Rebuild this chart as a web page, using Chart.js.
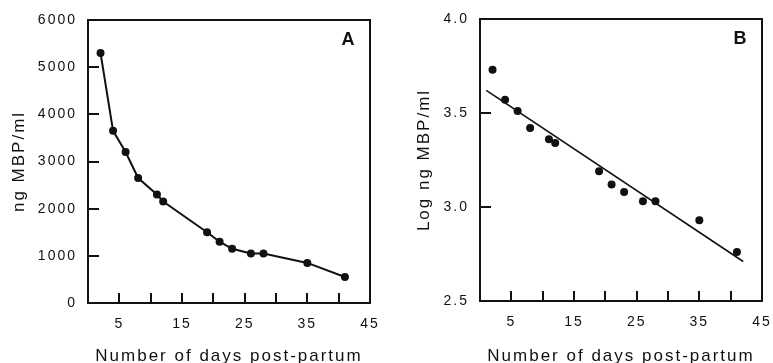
<!DOCTYPE html>
<html>
<head>
<meta charset="utf-8">
<title>MBP post-partum</title>
<script src="https://cdn.jsdelivr.net/npm/chart.js@4.4.1/dist/chart.umd.min.js"></script>
<style>
  html, body { margin: 0; padding: 0; background: #fff; }
  #wrap { position: relative; width: 773px; height: 363px; }
  .panel { position: absolute; top: 0; height: 363px; }
  #panelA { left: 0; width: 386px; }
  #panelB { left: 386px; width: 387px; }
</style>
</head>
<body>
<div id="wrap">
  <div class="panel" id="panelA"><canvas id="chartA"></canvas></div>
  <div class="panel" id="panelB"><canvas id="chartB"></canvas></div>
</div>
<script>
// days post-partum (shared by both panels)
const days = [2, 4, 6, 8, 11, 12, 19, 21, 23, 26, 28, 35, 41];
// panel A: ng MBP/ml
const mbp = [5300, 3650, 3200, 2650, 2300, 2150, 1500, 1300, 1150, 1050, 1050, 850, 550];
// panel B: log ng MBP/ml
const logMbp = [3.73, 3.57, 3.51, 3.42, 3.36, 3.34, 3.19, 3.12, 3.08, 3.03, 3.03, 2.93, 2.76];
// fitted line in panel B (end points)
const fitDays = [1, 42];
const fitLog = [3.62, 2.71];

const xTicks = [0, 45, 5];          // min, max, step
const yTicksA = [0, 6000, 1000];
const yTicksB = [2.5, 4.0, 0.5];

const ink = '#111';
const family = '"Liberation Sans", Arial, sans-serif';

const pts = (xs, ys) => xs.map((x, i) => ({ x: x, y: ys[i] }));

// box around the plot area, inward tick marks, panel letter
const framePlugin = {
    id: 'frame',
    beforeDraw(chart) {
        chart.ctx.letterSpacing = '2px';
    },
    afterDraw(chart, args, opts) {
        const { ctx, chartArea: a, scales } = chart;
        const sx = scales.x, sy = scales.y;
        ctx.save();
        ctx.strokeStyle = ink;
        ctx.fillStyle = ink;
        for (let v = sx.min + xTicks[2]; v < sx.max; v += xTicks[2]) {
            const px = Math.round(sx.getPixelForValue(v));
            ctx.fillRect(px - 1, a.bottom - 10, 2, 10);
        }
        for (let v = sy.min + sy.options.ticks.stepSize; v < sy.max - 1e-9; v += sy.options.ticks.stepSize) {
            const py = Math.round(sy.getPixelForValue(v));
            ctx.fillRect(a.left, py - 1, 11, 2);
        }
        ctx.lineWidth = 2;
        ctx.strokeRect(a.left, a.top, a.right - a.left, a.bottom - a.top);
        ctx.font = 'bold 18px ' + family;
        ctx.letterSpacing = '0px';
        ctx.textAlign = 'center';
        ctx.textBaseline = 'middle';
        ctx.fillText(opts.letter, a.right - 22, a.top + 20);
        ctx.restore();
    }
};

function axisX(height) {
    return {
        type: 'linear',
        min: xTicks[0],
        max: xTicks[1],
        afterFit: s => { s.height = height; s.paddingLeft = 0; s.paddingRight = 0; },
        border: { display: true, color: ink, width: 2 },
        grid: { display: false, drawTicks: false },
        ticks: {
            stepSize: xTicks[2],
            autoSkip: false,
            maxRotation: 0,
            padding: 13,
            color: ink,
            font: { family: family, size: 14 },
            callback: v => (v % 10 === 5 ? String(v) : '')
        },
        title: {
            display: true,
            text: 'Number of days post-partum',
            color: ink,
            font: { family: family, size: 17 },
            padding: { top: 0, bottom: -4 }
        }
    };
}

function axisY(width, lim, title, titlePad, fmt) {
    return {
        type: 'linear',
        min: lim[0],
        max: lim[1],
        afterFit: s => { s.width = width; s.paddingTop = 0; s.paddingBottom = 0; },
        border: { display: true, color: ink, width: 2 },
        grid: { display: false, drawTicks: false },
        ticks: {
            stepSize: lim[2],
            autoSkip: false,
            padding: 11,
            color: ink,
            font: { family: family, size: 14 },
            callback: fmt
        },
        title: {
            display: true,
            text: title,
            color: ink,
            font: { family: family, size: 17 },
            padding: { top: titlePad, bottom: 0 }
        }
    };
}

const common = {
    responsive: true,
    maintainAspectRatio: false,
    animation: false,
    events: [],
    plugins: {
        legend: { display: false },
        tooltip: { enabled: false }
    }
};

// Panel A: raw concentrations
new Chart(document.getElementById('chartA'), {
    type: 'scatter',
    data: {
        datasets: [{
            data: pts(days, mbp),
            showLine: true,
            borderColor: ink,
            borderWidth: 2,
            backgroundColor: ink,
            pointRadius: 4,
            pointBorderWidth: 0
        }]
    },
    options: {
        ...common,
        layout: { padding: { left: 0, top: 20, right: 16, bottom: 0 } },
        scales: {
            x: axisX(60),
            y: axisY(88, yTicksA, 'ng MBP/ml', 9, v => String(v))
        },
        plugins: { ...common.plugins, frame: { letter: 'A' } }
    },
    plugins: [framePlugin]
});

// Panel B: log concentrations with fitted line
new Chart(document.getElementById('chartB'), {
    type: 'scatter',
    data: {
        datasets: [{
            data: pts(days, logMbp),
            showLine: false,
            backgroundColor: ink,
            borderColor: ink,
            pointRadius: 4,
            pointBorderWidth: 0
        }, {
            data: pts(fitDays, fitLog),
            showLine: true,
            borderColor: ink,
            borderWidth: 1.6,
            pointRadius: 0
        }]
    },
    options: {
        ...common,
        layout: { padding: { left: 0, top: 19, right: 11, bottom: 0 } },
        scales: {
            x: axisX(62),
            y: axisY(94, yTicksB, 'Log ng MBP/ml', 28, v => v.toFixed(1))
        },
        plugins: { ...common.plugins, frame: { letter: 'B' } }
    },
    plugins: [framePlugin]
});
</script>
</body>
</html>
